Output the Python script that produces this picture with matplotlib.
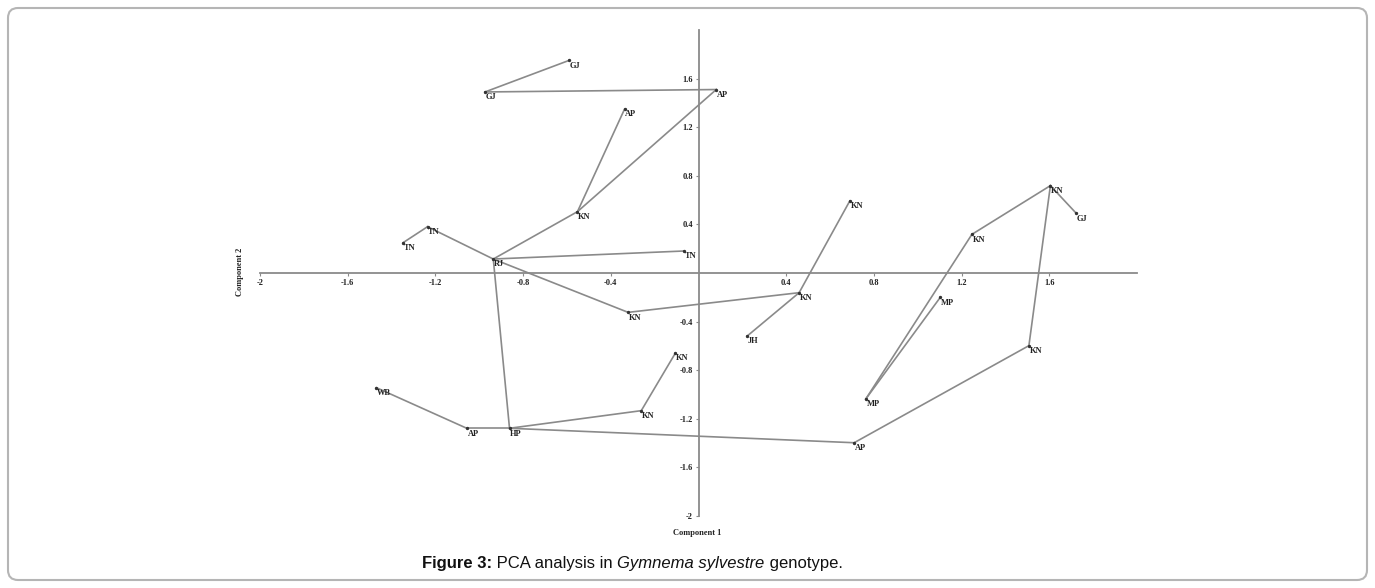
import matplotlib.pyplot as plt
from matplotlib.patches import FancyBboxPatch
from matplotlib.transforms import IdentityTransform

# genotypes (state codes) and their PCA scores
names = ["GJ", "GJ", "AP", "AP", "KN", "TN", "TN", "RJ", "TN", "KN",
         "KN", "KN", "JH", "KN", "KN", "GJ", "MP", "KN", "KN", "WB",
         "AP", "HP", "KN", "MP", "AP"]
pc1 = [-0.59, -0.974, 0.081, -0.337, -0.552, -1.236, -1.347, -0.936, -0.067, -0.321,
       0.69, 0.459, 0.222, 1.247, 1.605, 1.723, 1.103, 1.507, -0.105, -1.469,
       -1.057, -0.862, -0.261, 0.763, 0.71]
pc2 = [1.75, 1.49, 1.51, 1.35, 0.505, 0.381, 0.25, 0.115, 0.181, -0.324,
       0.593, -0.162, -0.519, 0.318, 0.719, 0.491, -0.2, -0.598, -0.658, -0.944,
       -1.278, -1.278, -1.133, -1.037, -1.397]

# minimum spanning tree links (index pairs)
links = [(0, 1), (1, 2), (2, 4), (3, 4), (4, 7), (6, 5), (5, 7), (7, 8), (7, 9),
         (9, 11), (11, 10), (11, 12), (7, 21), (21, 20), (20, 19), (21, 22),
         (22, 18), (21, 24), (24, 17), (17, 14), (14, 15), (14, 13), (13, 23),
         (23, 16)]

xticks = [-2, -1.6, -1.2, -0.8, -0.4, 0.4, 0.8, 1.2, 1.6]
yticks = [-2, -1.6, -1.2, -0.8, -0.4, 0.4, 0.8, 1.2, 1.6]

W, H = 1375, 588
fig = plt.figure(figsize=(W / 100, H / 100), dpi=100)
ax = fig.add_axes([260 / W, 1 - 516 / H, (1137 - 260) / W, (516 - 30) / H])

grey = "#8a8a8a"
serif = {"family": "Liberation Serif", "weight": "bold"}

for a, b in links:
    ax.plot([pc1[a], pc1[b]], [pc2[a], pc2[b]], color=grey, lw=1.2, zorder=2)
ax.scatter(pc1, pc2, s=2, color="#333333", zorder=3)
for n, x, y in zip(names, pc1, pc2):
    ax.annotate(n, (x, y), xytext=(0.5, -1), textcoords="offset points",
                ha="left", va="top", fontsize=6, color="#222222", **serif)

ax.set_xlim(-2, 2.0)
ax.set_ylim(-2, 2.0)
for s in ["top", "right"]:
    ax.spines[s].set_visible(False)
for s in ["left", "bottom"]:
    ax.spines[s].set_position(("data", 0))
    ax.spines[s].set_color(grey)
    ax.spines[s].set_linewidth(1.3)

ax.set_xticks(xticks)
ax.set_xticklabels([f"{t:g}" for t in xticks])
ax.set_yticks(yticks)
ax.set_yticklabels([f"{t:g}" for t in yticks])
ax.tick_params(length=2.5, width=0.8, color=grey, pad=1.5, labelsize=6)
for lab in ax.get_xticklabels() + ax.get_yticklabels():
    lab.set_family("Liberation Serif")
    lab.set_weight("bold")
    lab.set_color("#222222")
ax.patch.set_visible(False)

fig.text(697 / W, 1 - 533 / H, "Component 1", ha="center", va="center",
         fontsize=6, color="#222222", **serif)
fig.text(240 / W, 1 - 272 / H, "Component 2", ha="center", va="center",
         rotation=90, fontsize=6, color="#222222", **serif)

# caption with mixed styles
cap = dict(fontsize=12, family="Liberation Sans", color="#111111", va="baseline")
t1 = fig.text(422 / W, 1 - 568 / H, "Figure 3:", weight="bold", **cap)
t2 = fig.text(0, 0, " PCA analysis in ", **cap)
t3 = fig.text(0, 0, "Gymnema sylvestre", style="italic", **cap)
t4 = fig.text(0, 0, " genotype.", **cap)
fig.canvas.draw()
r = fig.canvas.get_renderer()
prev = t1
for t in [t2, t3, t4]:
    bb = prev.get_window_extent(r)
    t.set_position((bb.x1 / W, prev.get_position()[1]))
    prev = t

fig.patches.append(FancyBboxPatch((8, 8), W - 16, H - 16,
                                  boxstyle="round,pad=0,rounding_size=10",
                                  transform=IdentityTransform(), fill=False,
                                  edgecolor="#b5b5b5", lw=1.5))

fig.savefig("out.png", dpi=100)
